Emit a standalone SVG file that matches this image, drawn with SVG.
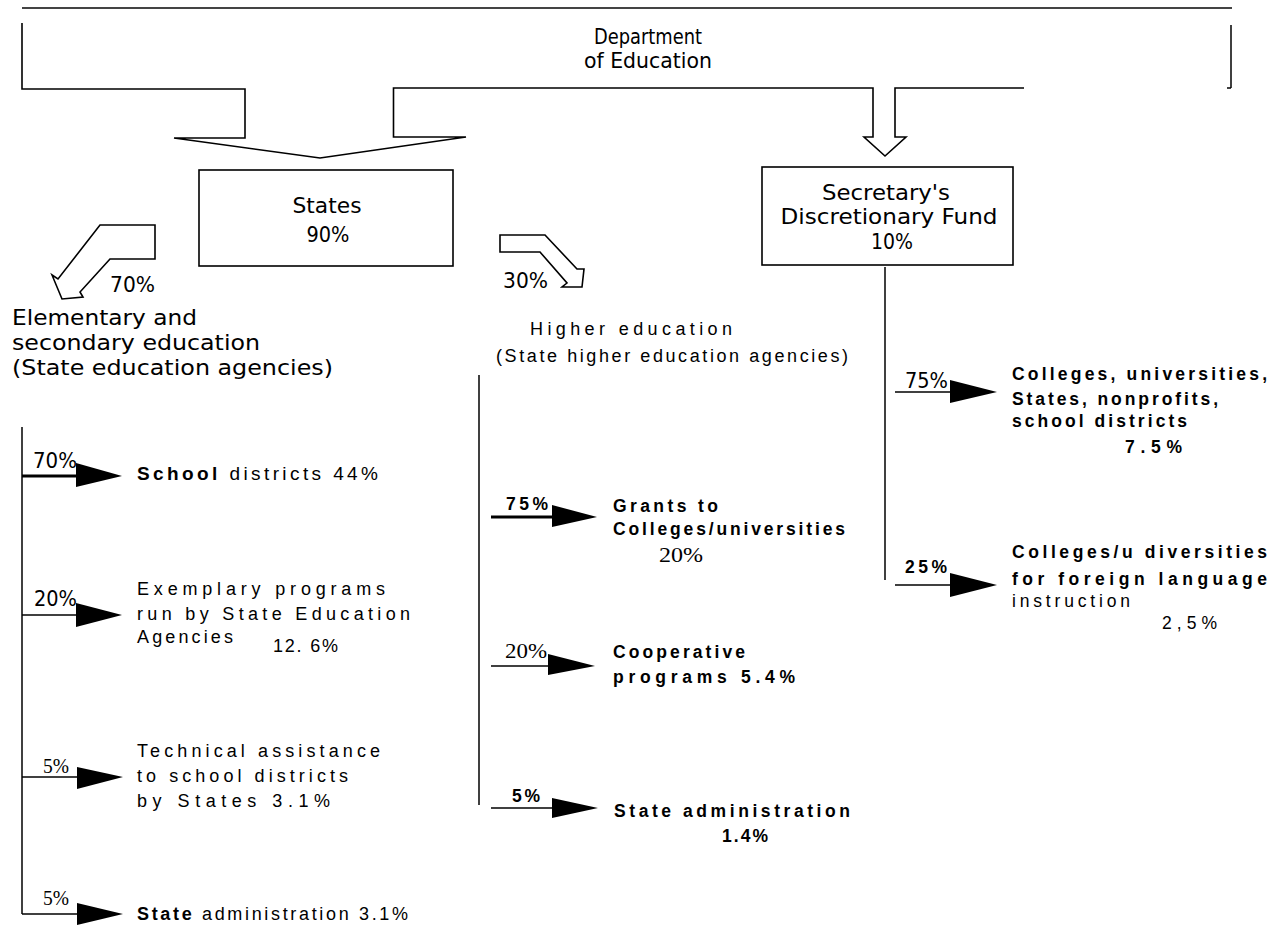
<svg xmlns="http://www.w3.org/2000/svg" width="1273" height="926" viewBox="0 0 1273 926">
<style>
  .bg{fill:#fff}
  .outline{fill:#fff;stroke:#000;stroke-width:1.6;stroke-linejoin:miter}
  .ln{stroke:#000;stroke-width:1.5;fill:none}
  .thick{stroke-width:3}
  .head{fill:#000}
  .r{font-family:"DejaVu Sans","Liberation Sans",sans-serif;font-size:21px;fill:#000}
  .a{font-family:"Liberation Sans",Arial,sans-serif;font-size:18px;fill:#000}
  .big{font-size:19px}
  .sm{font-size:17.5px}
  .b{font-weight:bold}
  .s{font-family:"Liberation Serif","Times New Roman",serif;font-size:21px;fill:#000}
  .c{text-anchor:middle}
</style>
<rect class="bg" x="0" y="0" width="1273" height="926"/>

<line x1="22" y1="8" x2="1232" y2="8" stroke="#444" stroke-width="2"/>

<g id="department">
  <path class="outline" d="M22,23 V89 H245 V138 H174 L320,158 L466,137 H393.5 V88 H873 V137 H864 L885,156 L906,137 H895 V88 H1024" fill="none"/>
  <line class="ln" x1="1231" y1="25" x2="1231" y2="88"/>
  <line class="ln" x1="1227" y1="88" x2="1231" y2="88"/>
  <text class="r c" x="648" y="44" textLength="108" lengthAdjust="spacingAndGlyphs">Department</text>
  <text class="r c" x="648" y="68" textLength="128" lengthAdjust="spacingAndGlyphs">of Education</text>
</g>

<g id="states">
  <rect class="outline" x="199" y="170" width="254" height="96"/>
  <text class="r c" x="327" y="213" textLength="69" lengthAdjust="spacingAndGlyphs">States</text>
  <text class="r c" x="328" y="242" textLength="43" lengthAdjust="spacingAndGlyphs">90%</text>
</g>

<g id="secretary">
  <rect class="outline" x="762" y="167" width="251" height="98"/>
  <text class="r c" x="886" y="200" textLength="128" lengthAdjust="spacingAndGlyphs">Secretary's</text>
  <text class="r c" x="889" y="224" textLength="217" lengthAdjust="spacingAndGlyphs">Discretionary Fund</text>
  <text class="r c" x="892" y="249" textLength="42" lengthAdjust="spacingAndGlyphs">10%</text>
</g>

<g id="elementary">
  <text class="r" x="110" y="292" textLength="45" lengthAdjust="spacingAndGlyphs">70%</text>
  <text class="r" x="12" y="325" textLength="185" lengthAdjust="spacingAndGlyphs">Elementary and</text>
  <text class="r" x="12" y="350" textLength="248" lengthAdjust="spacingAndGlyphs">secondary education</text>
  <text class="r" x="12" y="375" textLength="321" lengthAdjust="spacingAndGlyphs">(State education agencies)</text>
</g>

<g id="higher">
  <text class="r" x="503" y="288" textLength="45" lengthAdjust="spacingAndGlyphs">30%</text>
  <text class="a" x="530" y="335" textLength="202" lengthAdjust="spacing">Higher education</text>
  <text class="a" x="496" y="362" textLength="352" lengthAdjust="spacing">(State higher education agencies)</text>
</g>

<g id="school-districts">
  <text class="a big" x="137" y="480" textLength="241" lengthAdjust="spacing"><tspan class="b">School</tspan> districts 44%</text>
</g>
<g id="exemplary">
  <text class="a" x="137" y="595" textLength="248" lengthAdjust="spacing">Exemplary programs</text>
  <text class="a" x="137" y="620" textLength="273" lengthAdjust="spacing">run by State Education</text>
  <text class="a" x="137" y="643" textLength="96" lengthAdjust="spacing">Agencies</text>
  <text class="a" x="273" y="652" textLength="65" lengthAdjust="spacing">12. 6%</text>
</g>
<g id="technical">
  <text class="a" x="137" y="757" textLength="243" lengthAdjust="spacing">Technical assistance</text>
  <text class="a" x="137" y="782" textLength="211" lengthAdjust="spacing">to school districts</text>
  <text class="a" x="137" y="807" textLength="193" lengthAdjust="spacing">by States 3.1%</text>
</g>
<g id="state-admin-left">
  <text class="a" x="137" y="920" textLength="271" lengthAdjust="spacing"><tspan class="b">State</tspan> administration 3.1%</text>
</g>

<g id="grants">
  <text class="a sm b" x="613" y="512" textLength="105" lengthAdjust="spacing">Grants to</text>
  <text class="a sm b" x="613" y="535" textLength="232" lengthAdjust="spacing">Colleges/universities</text>
  <text class="s" x="659" y="562" textLength="44" lengthAdjust="spacingAndGlyphs">20%</text>
</g>
<g id="cooperative">
  <text class="a sm b" x="613" y="658" textLength="132" lengthAdjust="spacing">Cooperative</text>
  <text class="a sm b" x="613" y="683" textLength="182" lengthAdjust="spacing">programs 5.4%</text>
</g>
<g id="state-admin-mid">
  <text class="a sm b" x="614" y="817" textLength="236" lengthAdjust="spacing">State administration</text>
  <text class="a sm b" x="722" y="842" textLength="46" lengthAdjust="spacing">1.4%</text>
</g>

<g id="colleges-nonprofits">
  <text class="a sm b" x="1012" y="380" textLength="255" lengthAdjust="spacing">Colleges, universities,</text>
  <text class="a sm b" x="1012" y="405" textLength="206" lengthAdjust="spacing">States, nonprofits,</text>
  <text class="a sm b" x="1012" y="427" textLength="175" lengthAdjust="spacing">school districts</text>
  <text class="a sm b" x="1125" y="453" textLength="57" lengthAdjust="spacing">7.5%</text>
</g>
<g id="foreign-language">
  <text class="a sm b" x="1012" y="558" textLength="255" lengthAdjust="spacing">Colleges/u diversities</text>
  <text class="a sm b" x="1012" y="585" textLength="255" lengthAdjust="spacing">for foreign language</text>
  <text class="a sm" x="1012" y="607" textLength="118" lengthAdjust="spacing">instruction</text>
  <text class="a sm" x="1162" y="629" textLength="55" lengthAdjust="spacing">2,5%</text>
</g>

<g id="connectors">
  <path class="outline" d="M100,225 H155 V259 H110 L80,292 L83,297 L62,299 L52,275 L58,279 Z"/>
  <path class="outline" d="M500,235 H545 L577,269 L584,269 L582,287 L562,287 L567,283 L540,252 H500 Z"/>

  <line class="ln" x1="22" y1="427" x2="22" y2="914"/>
  <line class="ln thick" x1="22" y1="476" x2="78" y2="476"/>
  <polygon class="head" points="76,463 122,476 76,487"/>
  <text class="r" x="33" y="468" textLength="44" lengthAdjust="spacingAndGlyphs">70%</text>
  <line class="ln" x1="22" y1="615" x2="78" y2="615"/>
  <polygon class="head" points="76,603 122,615 76,627"/>
  <text class="r" x="34" y="606" textLength="43" lengthAdjust="spacingAndGlyphs">20%</text>
  <line class="ln" x1="22" y1="777" x2="78" y2="777"/>
  <polygon class="head" points="77,767 123,777 77,789"/>
  <text class="s" x="43" y="773" font-size="17" textLength="26" lengthAdjust="spacingAndGlyphs">5%</text>
  <line class="ln" x1="22" y1="914" x2="78" y2="914"/>
  <polygon class="head" points="77,903 123,914 77,925"/>
  <text class="s" x="43" y="905" font-size="17" textLength="26" lengthAdjust="spacingAndGlyphs">5%</text>

  <line class="ln" x1="479" y1="375" x2="479" y2="805"/>
  <line class="ln thick" x1="491" y1="517" x2="553" y2="517"/>
  <polygon class="head" points="552,505 597,517 552,527"/>
  <text class="a sm b" x="506" y="510" textLength="42" lengthAdjust="spacing">75%</text>
  <line class="ln" x1="491" y1="666" x2="550" y2="666"/>
  <polygon class="head" points="548,654 595,666 548,675"/>
  <text class="s" x="505" y="658" textLength="42" lengthAdjust="spacingAndGlyphs">20%</text>
  <line class="ln" x1="491" y1="808" x2="553" y2="808"/>
  <polygon class="head" points="552,798 598,808 552,818"/>
  <text class="a sm b" x="512" y="802" textLength="28" lengthAdjust="spacing">5%</text>

  <line class="ln" x1="885" y1="267" x2="885" y2="580"/>
  <line class="ln" x1="895" y1="392" x2="951" y2="392"/>
  <polygon class="head" points="950,380 997,392 950,403"/>
  <text class="r" x="905" y="388" textLength="43" lengthAdjust="spacingAndGlyphs">75%</text>
  <line class="ln" x1="895" y1="585" x2="951" y2="585"/>
  <polygon class="head" points="950,573 997,585 950,597"/>
  <text class="a sm b" x="905" y="573" textLength="42" lengthAdjust="spacing">25%</text>
</g>
</svg>
